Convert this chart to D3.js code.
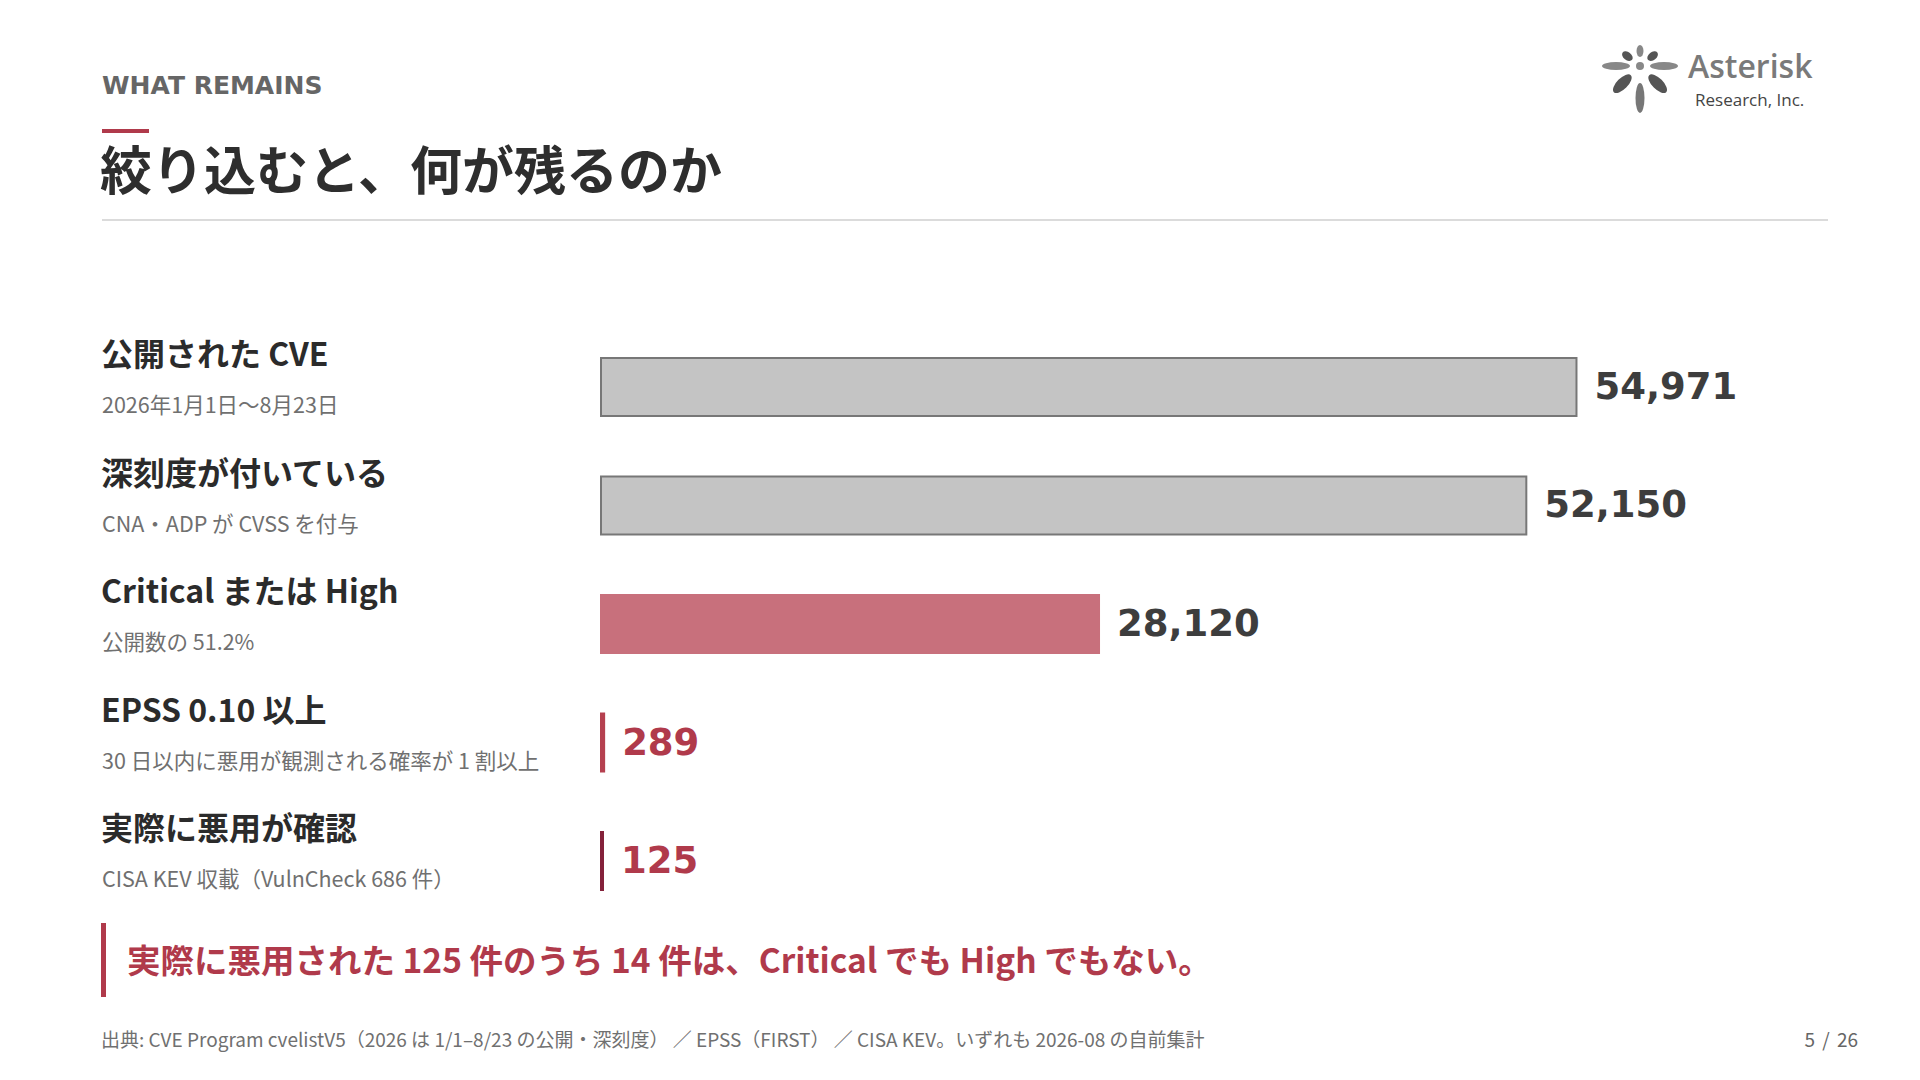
<!DOCTYPE html>
<html>
<head>
<meta charset="utf-8">
<script src="https://cdn.jsdelivr.net/npm/d3@7"></script>
<style>
  body { margin: 0; background: #fff; }
  svg { display: block; }
</style>
</head>
<body>
<script>
// rows of the funnel
var labels = ["公開された CVE", "深刻度が付いている", "Critical または High", "EPSS 0.10 以上", "実際に悪用が確認"];
var notes = ["2026年1月1日〜8月23日", "CNA・ADP が CVSS を付与", "公開数の 51.2%", "30 日以内に悪用が観測される確率が 1 割以上", "CISA KEV 収載（VulnCheck 686 件）"];
var counts = [54971, 52150, 28120, 289, 125];

var kicker = "WHAT REMAINS";
var title = "絞り込むと、何が残るのか";
var callout = "実際に悪用された 125 件のうち 14 件は、Critical でも High でもない。";
var source = "出典: CVE Program cvelistV5（2026 は 1/1–8/23 の公開・深刻度） ／ EPSS（FIRST） ／ CISA KEV。いずれも 2026-08 の自前集計";
var page = "5 / 26";

var width = 1920, height = 1080;
var jp = "'Noto Sans CJK JP', 'Noto Sans', sans-serif";
var num = "'DejaVu Sans', Verdana, sans-serif";
var red = "#b03a4b";

var svg = d3.select("body").append("svg")
    .attr("width", width)
    .attr("height", height);

// header
svg.append("text")
    .attr("x", 102).attr("y", 94)
    .attr("font-family", num).attr("font-weight", "bold")
    .attr("font-size", "25px").style("fill", "#666")
    .text(kicker);

svg.append("rect")
    .attr("x", 102).attr("y", 129).attr("width", 47).attr("height", 4)
    .style("fill", red);

svg.append("text")
    .attr("x", 100).attr("y", 190)
    .attr("font-family", jp).attr("font-weight", "bold")
    .attr("font-size", "52px").style("fill", "#2e2e2e")
    .text(title);

svg.append("line")
    .attr("x1", 102).attr("x2", 1828).attr("y1", 220).attr("y2", 220)
    .style("stroke", "#cfcfcf").style("stroke-width", 1.5);

// logo
var logo = svg.append("g").attr("transform", "translate(1640, 66)");
var petals = [
    {a: 0, r: 15, rx: 3.5, ry: 6, c: "#888"},
    {a: 52, r: 16, rx: 4, ry: 6, c: "#555"},
    {a: -52, r: 16, rx: 4, ry: 6, c: "#555"},
    {a: 90, r: 24, rx: 4, ry: 14, c: "#888"},
    {a: -90, r: 24, rx: 4, ry: 14, c: "#888"},
    {a: 135, r: 25, rx: 5.5, ry: 12, c: "#555"},
    {a: -135, r: 25, rx: 5.5, ry: 12, c: "#555"},
    {a: 180, r: 32, rx: 4.5, ry: 15, c: "#777"}
];
petals.forEach(function(p) {
    logo.append("ellipse")
        .attr("cx", 0).attr("cy", -p.r)
        .attr("rx", p.rx).attr("ry", p.ry)
        .attr("transform", "rotate(" + p.a + ")")
        .style("fill", p.c);
});
logo.append("circle").attr("r", 4).style("fill", "#888");

svg.append("text")
    .attr("x", 1688).attr("y", 78)
    .attr("font-family", "'Open Sans', sans-serif").attr("font-weight", 600)
    .attr("font-size", "32px").style("fill", "#7a7a7a")
    .text("Asterisk");
svg.append("text")
    .attr("x", 1695).attr("y", 106)
    .attr("font-family", "'Open Sans', sans-serif")
    .attr("font-size", "17px").style("fill", "#444")
    .text("Research, Inc.");

// scales
var x = d3.scaleLinear()
    .domain([0, 55000])
    .range([600, 1578]);

var y = d3.scaleBand()
    .domain(labels)
    .range([357, 891])
    .paddingInner(0.4937)
    .paddingOuter(0);

var fills = d3.scaleOrdinal()
    .domain(labels)
    .range(["#c4c4c4", "#c4c4c4", "#c8707c", "#b5404f", "#84213a"]);
var strokes = d3.scaleOrdinal()
    .domain(labels)
    .range(["#777", "#777", "none", "none", "none"]);
var valueColor = d3.scaleOrdinal()
    .domain(labels)
    .range(["#3d3d3d", "#3d3d3d", "#3d3d3d", red, red]);

var rows = labels.map(function(l, i) {
    return {label: l, note: notes[i], count: counts[i]};
});

var barW = function(d) { return Math.max(x(d.count) - x(0), 4); };
var inset = function(d) { return strokes(d.label) === "none" ? 0 : 1; };

var g = svg.append("g");

// row labels
g.selectAll(".label")
    .data(rows)
    .enter().append("text")
    .attr("class", "label")
    .attr("x", 101)
    .attr("y", function(d) { return y(d.label) + 9; })
    .attr("font-family", jp).attr("font-weight", "bold")
    .attr("font-size", "32px").style("fill", "#2b2b2b")
    .text(function(d) { return d.label; });

g.selectAll(".note")
    .data(rows)
    .enter().append("text")
    .attr("class", "note")
    .attr("x", 102)
    .attr("y", function(d) { return y(d.label) + 56; })
    .attr("font-family", jp)
    .attr("font-size", "21.5px").style("fill", "#707070")
    .text(function(d) { return d.note; });

// bars
g.selectAll(".bar")
    .data(rows)
    .enter().append("rect")
    .attr("class", "bar")
    .attr("x", function(d) { return x(0) + inset(d); })
    .attr("y", function(d) { return y(d.label) + inset(d); })
    .attr("width", function(d) { return barW(d) - 2 * inset(d); })
    .attr("height", function(d) { return y.bandwidth() - 2 * inset(d); })
    .style("fill", function(d) { return fills(d.label); })
    .style("stroke", function(d) { return strokes(d.label); })
    .style("stroke-width", 2);

g.selectAll(".value")
    .data(rows)
    .enter().append("text")
    .attr("class", "value")
    .attr("x", function(d) { return x(0) + barW(d) + 17; })
    .attr("y", function(d) { return y(d.label) + y.bandwidth() / 2 + 12; })
    .attr("font-family", num).attr("font-weight", "bold")
    .attr("font-size", "37px")
    .style("fill", function(d) { return valueColor(d.label); })
    .text(function(d) { return d3.format(",")(d.count); });

// callout
svg.append("rect")
    .attr("x", 101).attr("y", 923).attr("width", 5).attr("height", 74)
    .style("fill", red);
svg.append("text")
    .attr("x", 127).attr("y", 973)
    .attr("font-family", jp).attr("font-weight", "bold")
    .attr("font-size", "33.5px").style("fill", red)
    .text(callout);

// footer
svg.append("text")
    .attr("x", 101).attr("y", 1047)
    .attr("font-family", jp)
    .attr("font-size", "19px").style("fill", "#707070")
    .text(source);
svg.append("text")
    .attr("x", 1858).attr("y", 1047)
    .attr("text-anchor", "end")
    .attr("font-family", jp)
    .attr("font-size", "19px").style("fill", "#666")
    .style("word-spacing", "3px")
    .text(page);
</script>
</body>
</html>
